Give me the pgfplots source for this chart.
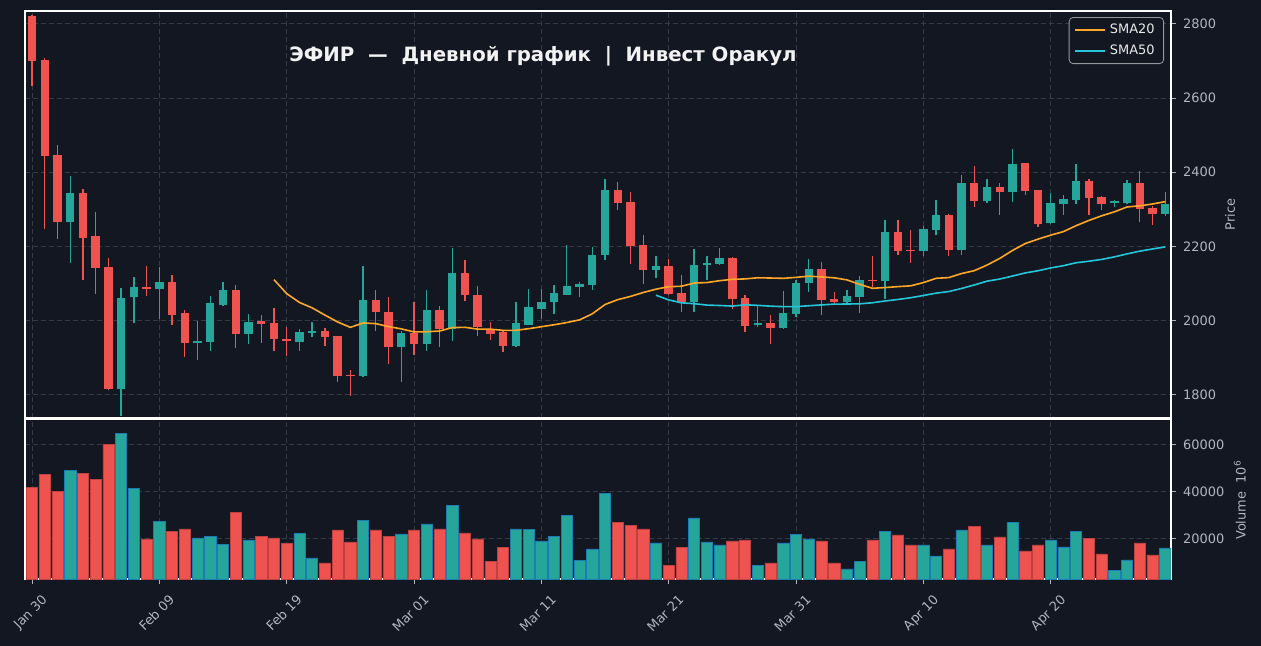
\documentclass[border=0pt]{standalone}
\usepackage{fontspec}
\setmainfont{DejaVu Sans}
\usepackage{pgfplots}
\usepackage{pgfplotstable}
\pgfplotsset{compat=1.18}
\definecolor{bg}{HTML}{131722}
\definecolor{cred}{HTML}{EF5350}
\definecolor{cgreen}{HTML}{26A69A}
\definecolor{gridc}{HTML}{363A45}
\definecolor{tickc}{HTML}{B2B5BE}
\definecolor{smaorange}{HTML}{FFA726}
\definecolor{smacyan}{HTML}{26C6DA}

\pgfplotstableread{
x o h l c v
3 2266 2390 2156 2344 48930
7 1815 2087 1743 2061 65040
8 2063 2117 1994 2090 41240
10 2085 2144 2005 2104 27140
13 1939 2000 1894 1946 20170
14 1943 2065 1919 2048 20730
15 2043 2104 2040 2083 17310
17 1964 2018 1937 1997 19300
21 1943 1977 1919 1968 22000
22 1966 1995 1955 1973 11620
26 1849 2146 1847 2054 27860
29 1928 1973 1833 1966 21880
31 1937 2083 1919 2027 26150
33 1978 2195 1946 2128 33970
38 1932 2050 1928 1993 24020
39 1989 2086 1987 2036 23720
40 2032 2086 2005 2051 18890
41 2050 2095 2018 2074 20730
42 2070 2205 2069 2093 29700
43 2090 2103 2063 2099 10470
44 2095 2198 2083 2176 15470
45 2176 2383 2162 2351 39100
49 2135 2173 2114 2146 18030
52 2050 2194 2022 2151 28720
53 2149 2173 2108 2154 18460
54 2153 2195 2149 2168 17180
57 1987 2038 1982 1993 8460
59 1979 2079 1978 2021 18030
60 2018 2110 2009 2102 21580
61 2101 2167 2078 2138 19740
64 2050 2081 2048 2065 6920
65 2063 2119 2021 2108 10040
67 2106 2270 2059 2240 22860
70 2187 2255 2173 2246 17180
71 2245 2326 2230 2284 12480
73 2191 2392 2176 2371 23590
75 2322 2383 2316 2359 17180
77 2347 2464 2320 2422 26710
80 2263 2344 2261 2317 19320
81 2314 2338 2284 2329 16320
82 2324 2422 2314 2376 22860
85 2318 2325 2306 2322 6320
86 2316 2378 2313 2371 10770
89 2286 2347 2283 2314 15900
}\up

\pgfplotstableread{
x o h l c v
0 2822 2825 2632 2701 41800
1 2703 2709 2248 2444 47520
2 2446 2473 2221 2266 40085
4 2344 2356 2108 2223 47950
5 2228 2293 2072 2141 45385
6 2144 2168 1812 1815 60340
9 2091 2147 2066 2086 19740
11 2104 2122 1989 2016 23000
12 2020 2027 1901 1939 24020
16 2083 2097 1926 1964 31280
18 1998 2016 1939 1990 21000
19 1993 2033 1919 1950 20170
20 1951 1982 1905 1944 17740
23 1973 1980 1932 1955 9490
24 1957 1958 1833 1851 23590
25 1854 1867 1797 1849 18460
27 2054 2081 1973 2024 23590
28 2024 2063 1883 1928 20850
30 1966 2051 1908 1937 23590
32 2027 2039 1928 1978 24020
34 2128 2162 2052 2068 22300
35 2070 2092 1958 1982 19740
36 1978 1995 1948 1964 10170
37 1968 1973 1914 1932 16150
46 2351 2374 2297 2317 26840
47 2320 2347 2153 2200 25720
48 2203 2232 2099 2137 24020
50 2146 2167 2069 2072 8460
51 2075 2124 2024 2051 16150
55 2168 2170 2032 2057 18890
56 2060 2069 1968 1986 19320
58 1993 2015 1937 1979 9490
62 2138 2158 2015 2054 18890
63 2057 2077 2044 2050 9490
66 2110 2173 2090 2106 19320
68 2240 2270 2178 2187 21450
69 2191 2245 2155 2187 17180
72 2284 2287 2173 2191 15470
74 2371 2416 2305 2322 25130
76 2359 2370 2284 2347 20600
78 2424 2426 2338 2349 14600
79 2351 2353 2252 2261 17180
83 2376 2381 2284 2331 20000
84 2333 2335 2299 2314 13330
87 2371 2404 2266 2302 18030
88 2304 2309 2259 2286 12900
}\down

\pgfplotsset{
  chartbase/.style={
    scale only axis, width=573bp,
    xmin=-0.55, xmax=89.45,
    clip mode=individual,
    axis background/.style={fill=bg},
    axis line style={white, line width=0.6bp},
    xtick={0,10,...,80},
    ytick pos=right, yticklabel pos=right,
    tick align=outside, major tick length=2.5bp,
    tick style={tickc, line width=0.5bp},
    grid=major, major grid style={gridc, dash pattern=on 2.5bp off 1.5bp, line width=0.5bp},
    tick label style={font=\fontsize{6.5}{7.5}\selectfont, text=tickc},
    /pgf/number format/assume math mode=true,
    /pgf/number format/1000 sep={},
    scaled y ticks=false,
  },
  candle/.style 2 args={draw=none, mark=none, forget plot, error bars/.cd, y dir=plus, y explicit,
    error mark=none, error bar style={draw=#1, line width=#2}},
}

\begin{document}
\begin{tikzpicture}
\fill[bg] (0,0) rectangle (630.5bp,323bp);

% ---------- price panel ----------
\begin{axis}[chartbase,
  at={(12.5bp,317.5bp)}, anchor=north west, height=203.5bp,
  ymin=1737, ymax=2835,
  ytick={1800,2000,...,2800},
  xticklabels={}, xtick style={draw=none},
  legend style={at={(0.9939,0.985)}, anchor=north east, fill=bg, draw=white!55!bg,
    text=white!92!black, rounded corners=2bp, font=\fontsize{6.5}{8}\selectfont,
    inner xsep=2.5bp, inner ysep=1bp, row sep=0.5bp},
  legend cell align=left,
  legend image code/.code={\draw[#1] (0bp,0bp) -- (15bp,0bp);},
]
\addlegendimage{draw=smaorange, line width=0.9bp}
\addlegendentry{SMA20}
\addlegendimage{draw=smacyan, line width=0.9bp}
\addlegendentry{SMA50}
% wicks
\addplot[candle={cgreen}{0.65bp}]
  table[x=x, y=l, y error plus expr=\thisrow{h}-\thisrow{l}] {\up};
\addplot[candle={cred}{0.65bp}]
  table[x=x, y=l, y error plus expr=\thisrow{h}-\thisrow{l}] {\down};
% bodies
\addplot[candle={cgreen}{4.2bp}]
  table[x=x, y=o, y error plus expr=\thisrow{c}-\thisrow{o}] {\up};
\addplot[candle={cred}{4.2bp}]
  table[x=x, y=c, y error plus expr=\thisrow{o}-\thisrow{c}] {\down};
% moving averages
\addplot[draw=smaorange, line width=0.8bp, mark=none, forget plot] coordinates {
(19,2110.4) (20,2072.6) (21,2048.8) (22,2034.1) (23,2014.7) (24,1996.1) (25,1981.5) (26,1993.4)
(27,1991.6) (28,1983.5) (29,1977.5) (30,1969.1) (31,1969.7) (32,1971.6) (33,1980.7) (34,1981.7)
(35,1976.7) (36,1976.7) (37,1973.4) (38,1973.6) (39,1977.9) (40,1983.2) (41,1988.5) (42,1994.5)
(43,2001.7) (44,2018.0) (45,2043.1) (46,2056.2) (47,2065.0) (48,2075.5) (49,2084.5) (50,2091.2)
(51,2092.4) (52,2101.1) (53,2102.4) (54,2107.4) (55,2111.1) (56,2112.2) (57,2115.3) (58,2114.6)
(59,2113.8) (60,2116.4) (61,2119.6) (62,2117.6) (63,2115.2) (64,2109.6) (65,2097.5) (66,2086.9)
(67,2088.9) (68,2091.4) (69,2093.5) (70,2102.2) (71,2113.8) (72,2115.8) (73,2126.7) (74,2134.4)
(75,2149.5) (76,2167.5) (77,2189.0) (78,2207.5) (79,2219.5) (80,2230.2) (81,2239.8) (82,2255.9)
(83,2269.9) (84,2282.4) (85,2293.1) (86,2306.3) (87,2309.4) (88,2314.4) (89,2320.7)};
\addplot[draw=smacyan, line width=0.8bp, mark=none, forget plot] coordinates {
(49,2068.2) (50,2055.6) (51,2047.7) (52,2045.4) (53,2041.6) (54,2040.5) (55,2038.9) (56,2042.3)
(57,2040.9) (58,2038.7) (59,2037.4) (60,2037.4) (61,2039.8) (62,2042.1) (63,2044.2) (64,2044.5)
(65,2045.0) (66,2047.9) (67,2052.7) (68,2056.7) (69,2061.4) (70,2067.4) (71,2073.8) (72,2078.1)
(73,2086.4) (74,2095.9) (75,2106.1) (76,2111.9) (77,2119.9) (78,2128.3) (79,2134.2) (80,2141.8)
(81,2147.8) (82,2155.8) (83,2159.9) (84,2164.8) (85,2171.6) (86,2179.7) (87,2187.1) (88,2193.0)
(89,2198.5)};
\node[font=\bfseries\fontsize{9.9}{11}\selectfont, text=white!95!black] at (axis description cs:0.452,0.889)
  {ЭФИР\ \ —\ \ Дневной график\ \ |\ \ Инвест Оракул};
\node[rotate=90, font=\fontsize{6.5}{7.5}\selectfont, text=tickc] at (axis description cs:1.0515,0.5) {Price};
\end{axis}

% ---------- volume panel ----------
\begin{axis}[chartbase,
  at={(12.5bp,113.5bp)}, anchor=north west, height=80bp,
  ymin=2600, ymax=71100,
  ytick={20000,40000,60000},
  xtick pos=bottom,
  xticklabels={Jan 30, Feb 09, Feb 19, Mar 01, Mar 11, Mar 21, Mar 31, Apr 10, Apr 20},
  xticklabel style={xshift=4.5bp, rotate=45, anchor=north east},
]
\addplot[ybar, bar width=0.88, bar shift=0pt, fill=cgreen, draw=cgreen!75!blue, line width=0.3bp]
  table[x=x, y=v] {\up};
\addplot[ybar, bar width=0.88, bar shift=0pt, fill=cred, draw=cred!80!black, line width=0.3bp]
  table[x=x, y=v] {\down};
\node[rotate=90, font=\fontsize{6.5}{7.5}\selectfont, text=tickc] at (axis description cs:1.060,0.494)
  {Volume\ \ 10\textsuperscript{6}};
\end{axis}
\end{tikzpicture}
\end{document}
